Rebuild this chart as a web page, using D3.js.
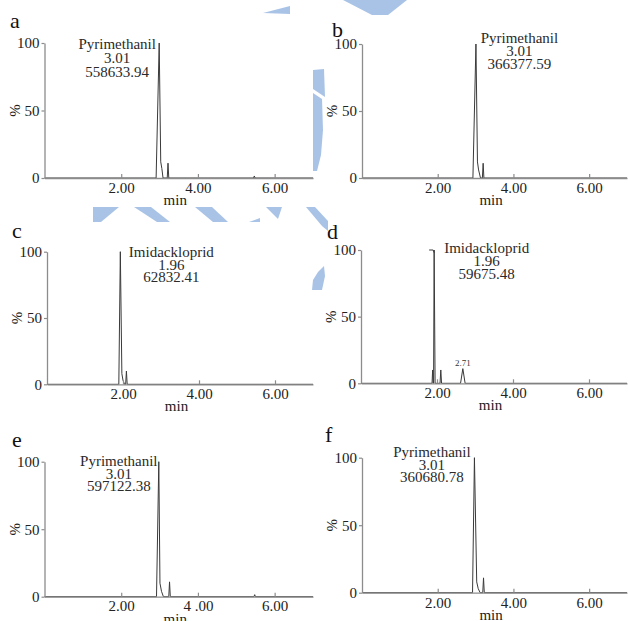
<!DOCTYPE html>
<html>
<head>
<meta charset="utf-8">
<script src="https://cdn.jsdelivr.net/npm/d3@7"></script>
<style>
  body { margin: 0; background: #fff; }
  svg { display: block; }
</style>
</head>
<body>
<div id="vis"></div>
<script>
// chromatogram panels, values
const panelKeys = ['a', 'b', 'c', 'd', 'e', 'f'];
const compounds = ['Pyrimethanil', 'Pyrimethanil', 'Imidackloprid', 'Imidackloprid', 'Pyrimethanil', 'Pyrimethanil'];
const retentionLabels = ['3.01', '3.01', '1.96', '1.96', '3.01', '3.01'];
const peakAreas = ['558633.94', '366377.59', '62832.41', '59675.48', '597122.38', '360680.78'];
const apexTimes = [2.99, 3.01, 1.93, 1.925, 2.98, 2.97];

// [time (min), intensity (%)]
const traceA = [[0, 0], [2.91, 0], [2.99, 100], [3.03, 12], [3.06, 7], [3.09, 0], [3.20, 0], [3.22, 11], [3.24, 0], [5.45, 0], [5.47, 1.5], [5.49, 0], [7, 0]];
const traceB = [[0, 0], [2.93, 0], [3.01, 100], [3.05, 12], [3.08, 6], [3.13, 0], [3.18, 0], [3.20, 11], [3.22, 0], [7, 0]];
const traceC = [[0, 0], [1.89, 0], [1.93, 100], [1.97, 8], [2.00, 3], [2.04, 0], [2.07, 0], [2.09, 10], [2.11, 0], [7, 0]];
const traceD = [[0, 0], [1.87, 0], [1.885, 10], [1.90, 0], [1.91, 0], [1.925, 100], [1.95, 0], [2.08, 0], [2.10, 10], [2.12, 0], [2.62, 0], [2.68, 11], [2.74, 0], [7, 0]];
const traceE = [[0, 0], [2.92, 0], [2.98, 100], [3.01, 10], [3.05, 4], [3.10, 0], [3.24, 0], [3.26, 11], [3.28, 0], [5.46, 0], [5.48, 1.5], [5.50, 0], [7, 0]];
const traceF = [[0, 0], [2.92, 0], [2.97, 100], [3.03, 8], [3.07, 3], [3.12, 0], [3.19, 0], [3.21, 11], [3.23, 0], [7, 0]];
const traces = [traceA, traceB, traceC, traceD, traceE, traceF];

// small labelled peak in panel d
const minorPeaks = [{ panel: 'd', time: 2.68, level: 11, text: '2.71' }];

const xDomain = [0, 7];
const yDomain = [0, 100];
const xTickValues = [2, 4, 6];
const xTickText = ['2.00', '4.00', '6.00'];
const xTickTextE = ['2.00', '4 .00', '6.00'];
const yTickValues = [0, 50, 100];

const width = 628;
const height = 621;
const FONT = '"Liberation Serif", "Times New Roman", serif';
const AXIS_COLOR = '#8c8c8c';

// plot frames and label offsets (pixels)
const layout = [
  { left: 44.5, right: 313, top: 43, bottom: 178, letter: [10, 28], annDx: -42, annY: 48.5, annStep: 14, lblBase: 15 },
  { left: 362, right: 627, top: 44, bottom: 178, letter: [332, 37], annDx: 43.5, annY: 43, annStep: 13, lblBase: 15 },
  { left: 47, right: 313, top: 251.7, bottom: 384.3, letter: [12, 238], annDx: 51, annY: 256.7, annStep: 12.8, lblBase: 15 },
  { left: 361, right: 627, top: 250, bottom: 383.3, letter: [327, 239], annDx: 52.5, annY: 253.3, annStep: 13, lblBase: 15, hook: 5 },
  { left: 44.5, right: 313, top: 461.7, bottom: 596.7, letter: [12, 447], annDx: -40, annY: 466, annStep: 12.6, lblBase: 14 },
  { left: 362, right: 627, top: 457.7, bottom: 592.7, letter: [325, 442], annDx: -42.5, annY: 457, annStep: 12.6, lblBase: 15 }
];

// light blue watermark fragments behind the figure
const watermark = [
  [[263, 13], [290, 6], [290, 14]],
  [[343, 0], [407, 0], [388, 15], [372, 15]],
  [[313, 70], [324, 69], [325, 97], [313, 89]],
  [[313, 93], [322, 99], [323, 130], [321, 155], [317, 171], [313, 171]],
  [[93, 207], [119, 207], [101, 222], [93, 222]],
  [[134, 207], [151, 207], [170, 222], [157, 222]],
  [[195, 207], [212, 207], [228, 222], [213, 222]],
  [[249, 222], [260, 218], [260, 222]],
  [[266, 207], [282, 207], [278, 219]],
  [[306, 207], [315, 207], [328, 221], [328, 231], [322, 226]],
  [[312, 290], [313, 280], [318, 272], [324, 266], [325, 276], [322, 290]]
];

const svg = d3.select('#vis')
  .append('svg')
  .attr('width', width)
  .attr('height', height)
  .style('font-family', FONT);

svg.append('g')
  .selectAll('path')
  .data(watermark)
  .join('path')
  .attr('d', d => d3.line().curve(d3.curveLinearClosed)(d))
  .attr('fill', '#a9c3e6');

function styleAxis(sel) {
  sel.attr('font-family', FONT).attr('font-size', 15);
  sel.select('.domain').attr('stroke', AXIS_COLOR).attr('stroke-width', 1.3);
  sel.selectAll('.tick line').attr('stroke', AXIS_COLOR).attr('stroke-width', 1.2);
  sel.selectAll('.tick text').attr('fill', '#222');
}

panelKeys.forEach((key, i) => {
  const L = layout[i];
  const x = d3.scaleLinear().domain(xDomain).range([L.left, L.right]);
  const y = d3.scaleLinear().domain(yDomain).range([L.bottom, L.top]);
  const g = svg.append('g').attr('class', 'panel-' + key);

  // trace
  g.append('path')
    .datum(traces[i])
    .attr('d', d3.line().x(d => x(d[0])).y(d => y(d[1])))
    .attr('fill', 'none')
    .attr('stroke', '#3a3a3a')
    .attr('stroke-width', 1)
    .attr('stroke-linejoin', 'round');

  // x axis, ticks point up into the plot
  const labels = key === 'e' ? xTickTextE : xTickText;
  const xAxis = d3.axisBottom(x)
    .tickValues(xTickValues)
    .tickFormat((d, j) => labels[j])
    .tickSizeInner(-4)
    .tickSizeOuter(0)
    .tickPadding(L.lblBase - 10.6);
  g.append('g')
    .attr('transform', `translate(0,${L.bottom})`)
    .call(xAxis)
    .call(styleAxis);

  const yAxis = d3.axisLeft(y)
    .tickValues(yTickValues)
    .tickSizeInner(3)
    .tickSizeOuter(0)
    .tickPadding(2);
  g.append('g')
    .attr('transform', `translate(${L.left},0)`)
    .call(yAxis)
    .call(styleAxis);

  // axis titles
  g.append('text')
    .attr('x', L.left + 0.487 * (L.right - L.left))
    .attr('y', L.bottom + 27)
    .attr('text-anchor', 'middle')
    .attr('font-size', 15)
    .attr('fill', '#222')
    .text('min');

  g.append('text')
    .attr('transform', `translate(${L.left - 25},${y(50)}) rotate(-90)`)
    .attr('text-anchor', 'middle')
    .attr('font-size', 15)
    .attr('fill', '#222')
    .text('%');

  // panel letter
  g.append('text')
    .attr('x', L.letter[0])
    .attr('y', L.letter[1])
    .attr('font-size', 22)
    .attr('fill', '#111')
    .text(key);

  // peak annotation
  const cx = x(apexTimes[i]) + L.annDx;
  [compounds[i], retentionLabels[i], peakAreas[i]].forEach((t, j) => {
    g.append('text')
      .attr('x', cx)
      .attr('y', L.annY + j * L.annStep)
      .attr('text-anchor', 'middle')
      .attr('font-size', 15)
      .attr('fill', '#2a2a2a')
      .text(t);
  });

  if (L.hook) {
    const px = x(apexTimes[i]);
    g.append('path')
      .attr('d', `M${px - L.hook},${y(100)}L${px - 1},${y(100)}L${px},${y(98)}`)
      .attr('fill', 'none')
      .attr('stroke', '#3a3a3a')
      .attr('stroke-width', 1);
  }

  minorPeaks.filter(m => m.panel === key).forEach(m => {
    g.append('text')
      .attr('x', x(m.time))
      .attr('y', y(m.level) - 3)
      .attr('text-anchor', 'middle')
      .attr('font-size', 9)
      .attr('fill', '#333')
      .text(m.text);
  });
});
</script>
</body>
</html>
